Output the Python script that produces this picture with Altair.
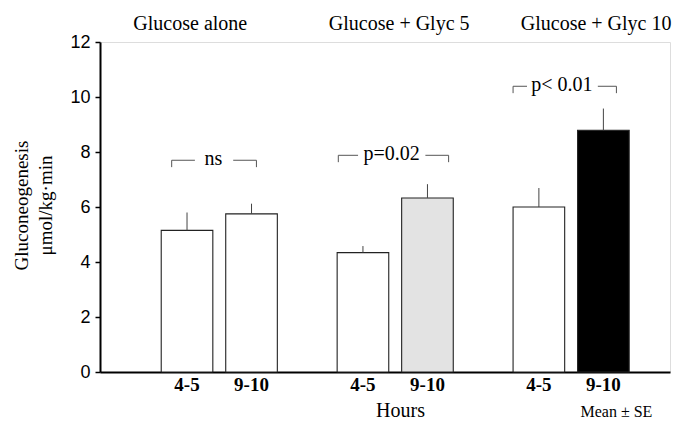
import altair as alt
import pandas as pd

# ---- data ----
groups = ["Glucose alone", "Glucose + Glyc 5", "Glucose + Glyc 10"]
hours = ["4-5", "9-10"]
means = [5.15, 5.75, 4.34, 6.33, 6.00, 8.79]      # µmol/kg·min
se = [0.65, 0.37, 0.24, 0.50, 0.69, 0.79]
fill_key = ["open", "open", "open", "glyc5", "open", "glyc10"]
p_labels = ["ns", "p=0.02", "p< 0.01"]
p_levels = [7.70, 7.88, 10.39]
y_ticks = [0, 2, 4, 6, 8, 10, 12]

rows = []
for gi, g in enumerate(groups):
    for hi, h in enumerate(hours):
        k = gi * 2 + hi
        rows.append({"group": g, "hour": h, "mean": means[k],
                     "top": means[k] + se[k], "fill": fill_key[k]})
df = pd.DataFrame(rows)

SERIF = "Liberation Serif"
SANS = "Liberation Sans"

xscale = alt.Scale(domain=groups, paddingInner=0.34, paddingOuter=0.29, align=0.6)
xoff = alt.Scale(domain=hours, paddingInner=0.2, paddingOuter=0)
yscale = alt.Scale(domain=[0, 12], nice=False)

base = alt.Chart(df)

bars = base.mark_bar(stroke="#222", strokeWidth=1.1).encode(
    x=alt.X("group:N", scale=xscale, sort=groups,
            axis=alt.Axis(labels=False, ticks=False, domain=True, domainColor="black",
                          domainWidth=2, title="Hours", titleFont=SERIF, titleFontSize=20,
                          titleFontWeight="normal", titleColor="black",
                          titleX=300, titleY=38, titleBaseline="middle")),
    xOffset=alt.XOffset("hour:N", scale=xoff, sort=hours),
    y=alt.Y("mean:Q", scale=yscale,
            axis=alt.Axis(values=y_ticks, grid=False, tickSize=5, tickWidth=1.5,
                          tickColor="black", domainColor="black", domainWidth=2,
                          labelFont=SANS, labelFontSize=18, labelColor="black",
                          labelPadding=5,
                          title=["Gluconeogenesis", "μmol/kg·min"], titleFont=SERIF,
                          titleFontSize=19, titleFontWeight="normal", titleColor="black",
                          titleLineHeight=24, titleX=-69, titleY=163,
                          titleBaseline="bottom")),
    fill=alt.Fill("fill:N", scale=alt.Scale(domain=["open", "glyc5", "glyc10"],
                                            range=["#ffffff", "#e3e3e3", "#000000"]),
                  legend=None),
)

err = base.mark_rule(color="#444", strokeWidth=1).encode(
    x=alt.X("group:N", scale=xscale, sort=groups),
    xOffset=alt.XOffset("hour:N", scale=xoff, sort=hours),
    y="mean:Q",
    y2="top:Q",
)

hour_text = base.mark_text(font=SERIF, fontSize=19, fontWeight="bold", color="black",
                           baseline="top", dy=4).encode(
    x=alt.X("group:N", scale=xscale, sort=groups),
    xOffset=alt.XOffset("hour:N", scale=xoff, sort=hours),
    y=alt.datum(0),
    text="hour:N",
)

layers = [bars, err, hour_text]

# group titles above the plot
title_dx = [-29, 4, 25]
for g, dx in zip(groups, title_dx):
    layers.append(
        alt.Chart(pd.DataFrame({"group": [g]})).mark_text(
            font=SERIF, fontSize=20, color="black", baseline="alphabetic", dy=-12, dx=dx
        ).encode(x=alt.X("group:N", scale=xscale, sort=groups), y=alt.datum(12),
                 text="group:N")
    )

# significance brackets: (left start, left end, right start, right end, text centre)
bracket_frac = [
    (0.09, 0.29, 0.62, 0.82, 0.45),
    (0.01, 0.18, 0.76, 0.96, 0.47),
    (0.00, 0.12, 0.73, 0.89, 0.42),
]
for g, lab, lev, (a, b, c, d, t) in zip(groups, p_labels, p_levels, bracket_frac):
    bd = pd.DataFrame({"group": [g], "y": [lev], "y2": [lev - 0.25], "label": [lab]})
    bc = alt.Chart(bd)
    for (s, e) in [(a, b), (c, d)]:
        layers.append(bc.mark_rule(color="#555", strokeWidth=1).encode(
            x=alt.X("group:N", scale=xscale, sort=groups, bandPosition=s),
            x2=alt.X2("group", bandPosition=e),
            y=alt.Y("y:Q", scale=yscale)))
    for s in (a, d):
        layers.append(bc.mark_rule(color="#555", strokeWidth=1).encode(
            x=alt.X("group:N", scale=xscale, sort=groups, bandPosition=s),
            y=alt.Y("y:Q", scale=yscale), y2="y2:Q"))
    layers.append(bc.mark_text(font=SERIF, fontSize=20, color="black",
                               baseline="alphabetic", dy=5).encode(
        x=alt.X("group:N", scale=xscale, sort=groups, bandPosition=t),
        y=alt.Y("y:Q", scale=yscale), text="label:N"))

# "Mean ± SE" note
layers.append(
    alt.Chart(pd.DataFrame({"group": [groups[2]], "note": ["Mean ± SE"]})).mark_text(
        font=SERIF, fontSize=16, color="black", baseline="alphabetic", dy=45
    ).encode(x=alt.X("group:N", scale=xscale, sort=groups, bandPosition=0.89),
             y=alt.datum(0), text="note:N")
)

chart = alt.layer(*layers).properties(
    width=570, height=330,
    autosize=alt.AutoSizeParams(type="none"),
    padding={"left": 92, "top": 34, "right": 2, "bottom": 49},
).configure_view(stroke=None).configure(background="white")

chart.save("out.html", embed_options={"renderer": "svg", "actions": False})
